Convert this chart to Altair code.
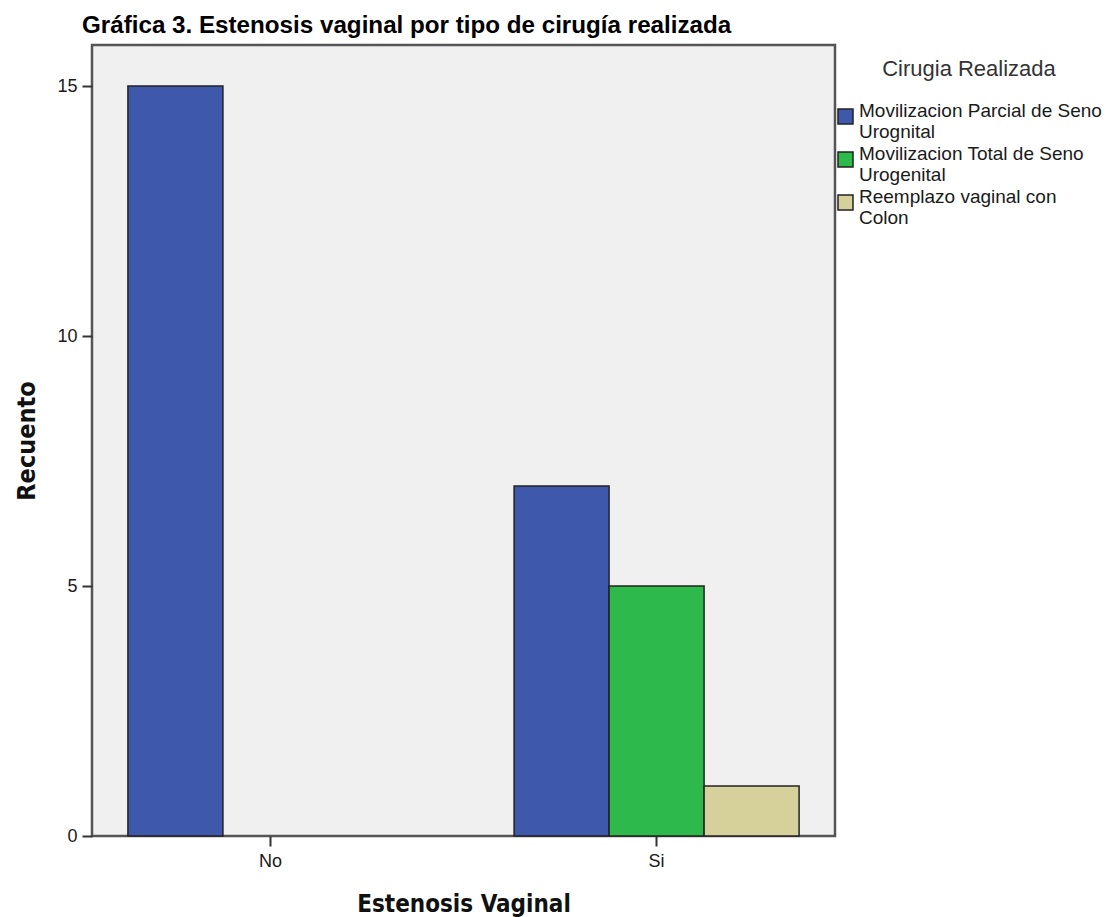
import json
import altair as alt
import pandas as pd

# ---- data ----
estenosis = ["No", "No", "No", "Si", "Si", "Si"]
cirugia = [
    "Movilizacion Parcial de Seno Urognital",
    "Movilizacion Total de Seno Urogenital",
    "Reemplazo vaginal con Colon",
] * 2
recuento = [15, 0, 0, 7, 5, 1]

cirugia_orden = [
    "Movilizacion Parcial de Seno Urognital",
    "Movilizacion Total de Seno Urogenital",
    "Reemplazo vaginal con Colon",
]
cirugia_lineas = [
    ["Movilizacion Parcial de Seno", "Urognital"],
    ["Movilizacion Total de Seno", "Urogenital"],
    ["Reemplazo vaginal con", "Colon"],
]
colores = ["#3e58ab", "#2eb94b", "#d6d09b"]
y_ticks = [0, 5, 10, 15]

df = pd.DataFrame({"Estenosis": estenosis, "Cirugia": cirugia, "Recuento": recuento})

label_expr = ""
for name, lines in zip(cirugia_orden, cirugia_lineas):
    label_expr += f"datum.label == {json.dumps(name)} ? {json.dumps(lines)} : "
label_expr += "datum.label"

bars = (
    alt.Chart(df)
    .transform_filter("datum.Recuento > 0")
    .mark_bar(stroke="#222222", strokeWidth=1.5)
    .encode(
        x=alt.X(
            "Estenosis:N",
            title="Estenosis Vaginal",
            scale=alt.Scale(paddingInner=0.262, paddingOuter=0.093),
            axis=alt.Axis(
                labelAngle=0,
                labelFont="Liberation Sans",
                labelFontSize=18,
                labelColor="#1a1a1a",
                labelPadding=6,
                tickSize=10,
                tickWidth=2,
                tickColor="#333333",
                domain=False,
                titleFont="DejaVu Sans Condensed",
                titleFontWeight="bold",
                titleFontSize=24,
                titleColor="#111111",
                titleBaseline="alphabetic",
                titleY=75,
            ),
        ),
        xOffset=alt.XOffset(
            "Cirugia:N",
            sort=cirugia_orden,
            scale=alt.Scale(paddingInner=0, paddingOuter=0),
        ),
        y=alt.Y(
            "Recuento:Q",
            title="Recuento",
            scale=alt.Scale(domain=[0, 15.82], nice=False),
            axis=alt.Axis(
                values=y_ticks,
                grid=False,
                domain=False,
                labelFont="Liberation Sans",
                labelFontSize=18,
                labelColor="#1a1a1a",
                labelPadding=5,
                tickSize=10,
                tickWidth=2,
                tickColor="#333333",
                titleFont="DejaVu Sans Condensed",
                titleFontWeight="bold",
                titleFontSize=25,
                titleColor="#111111",
                titleAngle=270,
                titleBaseline="middle",
                titleX=-66,
            ),
        ),
        color=alt.Color(
            "Cirugia:N",
            sort=cirugia_orden,
            scale=alt.Scale(domain=cirugia_orden, range=colores),
            legend=alt.Legend(
                title="Cirugia Realizada",
                orient="none",
                legendX=744,
                legendY=14,
                titleFont="Liberation Sans",
                titleFontSize=22,
                titleFontWeight="normal",
                titleColor="#333333",
                titleAnchor="middle",
                titlePadding=26,
                labelFont="Liberation Sans",
                labelFontSize=19,
                labelColor="#1a1a1a",
                labelLimit=400,
                labelOffset=4,
                labelBaseline="alphabetic",
                labelExpr=label_expr,
                symbolType="square",
                symbolSize=225,
                symbolStrokeColor="#222222",
                symbolStrokeWidth=1.5,
                symbolOpacity=1,
                rowPadding=2,
            ),
        ),
    )
)

chart = (
    bars.properties(
        width=743,
        height=791,
        autosize=alt.AutoSizeParams(type="none"),
        padding={"left": 92, "top": 45, "right": 273, "bottom": 81},
        title=alt.TitleParams(
            "Gráfica 3. Estenosis vaginal por tipo de cirugía realizada",
            anchor="start",
            frame="group",
            dx=-10,
            offset=7,
            font="Liberation Sans",
            fontSize=24.2,
            fontWeight="bold",
            color="#000000",
        ),
        background="#ffffff",
    )
    .configure_view(fill="#f0f0f0", stroke="#555555", strokeWidth=2.5)
)

chart.save("out.html", embed_options={"renderer": "svg", "actions": False})
